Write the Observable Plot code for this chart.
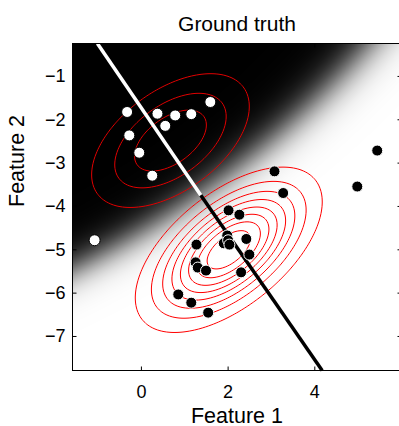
<!DOCTYPE html>
<html><head><meta charset="utf-8">
<script src="https://cdn.jsdelivr.net/npm/d3@7"></script>
<script src="https://cdn.jsdelivr.net/npm/@observablehq/plot@0.6"></script>
<style>body{margin:0;background:#fff;} svg{display:block;}</style>
</head><body><div id="chart"></div>
<script>
// Class 1 (white markers)
const whiteX = [-0.33, 0.37, 0.78, 1.15, 1.59, 0.55, -0.28, -0.05, 0.25, -1.08];
const whiteY = [-1.82, -1.86, -1.90, -1.87, -1.59, -2.14, -2.36, -2.76, -3.29, -4.78];
// Class 2 (black markers)
const blackX = [3.07, 3.27, 2.01, 2.26, 1.98, 1.90, 2.00, 2.03, 2.42, 1.27, 2.49, 1.25, 1.30, 1.49, 2.30, 0.85, 1.15, 1.54, 4.98, 5.44];
const blackY = [-3.19, -3.69, -4.09, -4.19, -4.67, -4.85, -4.78, -4.88, -4.75, -4.88, -5.11, -5.29, -5.41, -5.48, -5.52, -6.03, -6.22, -6.45, -3.54, -2.71];
// Ground-truth Gaussians (equal priors)
const classMeanX = [0.67, 2.015];
const classMeanY = [-2.48, -5.0];
const classSdX = [1.19, 1.43];
const classSdY = [1.01, 1.265];
const classRho = [0.51, 0.58];
// Contours: Mahalanobis radii of the drawn ellipses
const contourRadii1 = [0.696, 1.08, 1.528];
const contourRadii2 = [0.349, 0.51, 0.648, 0.78, 0.917, 1.066, 1.248, 1.508];
// Linear decision line (white part, then black part)
const lineX = [-1.015, 1.37, 4.17];
const lineY = [-0.24, -3.74, -7.785];
// Axes
const xTicks = [0, 2, 4];
const yTicks = [-7, -6, -5, -4, -3, -2, -1];
const xDomain = [-1.59, 6.0];
const yDomain = [-7.785, -0.24];

const W = 399, H = 426, mL = 72, mR = -2, mT = 43, mB = 56;
const pxX = (W - mR - mL) / (xDomain[1] - xDomain[0]);
const pxY = (H - mB - mT) / (yDomain[1] - yDomain[0]);

function mahal2(i) {
  const mx = classMeanX[i], my = classMeanY[i], sx = classSdX[i], sy = classSdY[i], r = classRho[i];
  return (x, y) => {
    const u = (x - mx) / sx, v = (y - my) / sy;
    return (u * u - 2 * r * u * v + v * v) / (1 - r * r);
  };
}
function density(i) {
  const q = mahal2(i), sx = classSdX[i], sy = classSdY[i], r = classRho[i];
  const k = 1 / (2 * Math.PI * sx * sy * Math.sqrt(1 - r * r));
  return (x, y) => k * Math.exp(-q(x, y) / 2);
}
const n1 = density(0), n2 = density(1);
const q1 = mahal2(0), q2 = mahal2(1);
const posterior2 = (x, y) => { const a = n1(x, y), b = n2(x, y); return b / (a + b); };

const tickLen = 4;
const ext = {x1: xDomain[0], x2: xDomain[1], y1: yDomain[0], y2: yDomain[1]};
const font = "Liberation Sans, Arial, Helvetica, sans-serif";

const chart = Plot.plot({
  width: W, height: H,
  marginLeft: mL, marginRight: mR, marginTop: mT, marginBottom: mB,
  style: {fontFamily: font, background: "white", color: "black"},
  x: {domain: xDomain},
  y: {domain: yDomain},
  color: {type: "linear", domain: [0, 1], range: ["black", "white"]},
  marks: [
    Plot.raster({...ext, fill: posterior2, pixelSize: 1}),
    Plot.contour({...ext, value: (x, y) => Math.sqrt(q1(x, y)), thresholds: contourRadii1, stroke: "#e00000", strokeWidth: 1, fill: "none", pixelSize: 1}),
    Plot.contour({...ext, value: (x, y) => Math.sqrt(q2(x, y)), thresholds: contourRadii2, stroke: "#ff0000", strokeWidth: 1, fill: "none", pixelSize: 1}),
    Plot.link([0], {x1: i => lineX[i], y1: i => lineY[i], x2: i => lineX[i + 1], y2: i => lineY[i + 1], stroke: "white", strokeWidth: 3.5}),
    Plot.link([1], {x1: i => lineX[i], y1: i => lineY[i], x2: i => lineX[i + 1], y2: i => lineY[i + 1], stroke: "black", strokeWidth: 3.5}),
    Plot.dot(d3.range(whiteX.length), {x: i => whiteX[i], y: i => whiteY[i], r: 5.5, fill: "white", stroke: "black", strokeWidth: 1}),
    Plot.dot(d3.range(blackX.length), {x: i => blackX[i], y: i => blackY[i], r: 5.5, fill: "black", stroke: "white", strokeWidth: 1}),
    Plot.frame({stroke: "black", strokeWidth: 1}),
    // inward ticks on all four sides
    Plot.link(xTicks, {x1: d => d, x2: d => d, y1: yDomain[0], y2: yDomain[0] + tickLen / pxY, stroke: "black"}),
    Plot.link(xTicks, {x1: d => d, x2: d => d, y1: yDomain[1], y2: yDomain[1] - tickLen / pxY, stroke: "black"}),
    Plot.link(yTicks, {y1: d => d, y2: d => d, x1: xDomain[0], x2: xDomain[0] + tickLen / pxX, stroke: "black"}),
    Plot.link(yTicks, {y1: d => d, y2: d => d, x1: xDomain[1], x2: xDomain[1] - tickLen / pxX, stroke: "black"}),
    Plot.axisX(xTicks, {tickSize: 0, tickPadding: 15, fontSize: 18, tickFormat: d3.format("d"), label: null}),
    Plot.axisY(yTicks, {tickSize: 0, tickPadding: 7, fontSize: 18, tickFormat: d3.format("d"), label: null}),
    Plot.text(["Ground truth"], {frameAnchor: "top", dy: -27, fontSize: 21, text: d => d, fill: "black"}),
    Plot.text(["Feature 1"], {frameAnchor: "bottom", dy: 52, fontSize: 21.5, text: d => d, fill: "black"}),
    Plot.text(["Feature 2"], {frameAnchor: "left", dx: -55, rotate: -90, fontSize: 21.5, text: d => d, fill: "black"})
  ]
});
document.getElementById("chart").appendChild(chart);
</script>
</body></html>
